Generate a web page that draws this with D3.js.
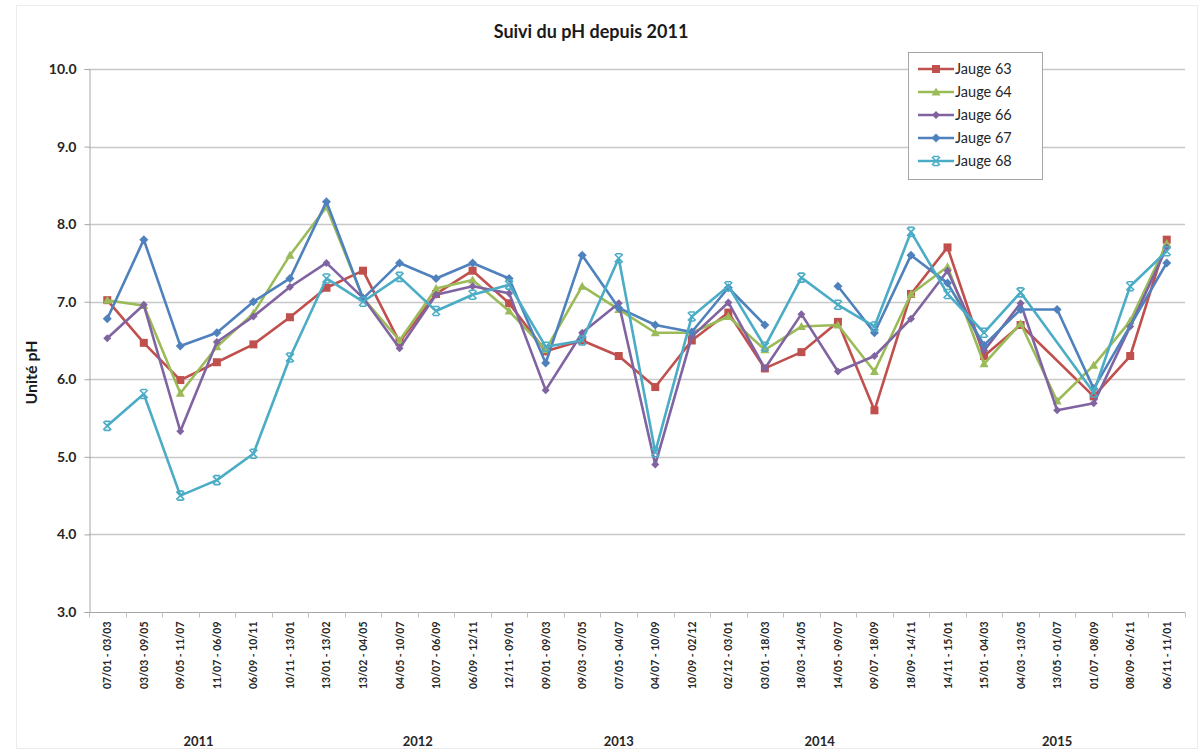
<!DOCTYPE html>
<html>
<head>
<meta charset="utf-8">
<script src="https://cdn.jsdelivr.net/npm/d3@7"></script>
<style>
  html, body { margin: 0; padding: 0; background: #fff; }
  svg { display: block; }
  text { font-family: Lato, "Open Sans", "DejaVu Sans", sans-serif; }
</style>
</head>
<body>
<svg id="chart" width="1203" height="749"></svg>
<script>
const categories = [
  "07/01 - 03/03","03/03 - 09/05","09/05 - 11/07","11/07 - 06/09","06/09 - 10/11","10/11 - 13/01",
  "13/01 - 13/02","13/02 - 04/05","04/05 - 10/07","10/07 - 06/09","06/09 - 12/11","12/11 - 09/01",
  "09/01 - 09/03","09/03 - 07/05","07/05 - 04/07","04/07 - 10/09","10/09 - 02/12","02/12 - 03/01",
  "03/01 - 18/03","18/03 - 14/05","14/05 - 09/07","09/07 - 18/09","18/09 - 14/11","14/11 - 15/01",
  "15/01 - 04/03","04/03 - 13/05","13/05 - 01/07","01/07 - 08/09","08/09 - 06/11","06/11 - 11/01"
];
const years = ["2011","2012","2013","2014","2015"];
const yearFirst = [0, 6, 12, 17, 23];
const yearLast  = [5, 11, 16, 22, 29];

// null = empty cell (gap in line), NaN = #N/A (line connected across)
const seriesNames = ["Jauge 63","Jauge 64","Jauge 66","Jauge 67","Jauge 68"];
const jauge63 = [7.02,6.47,5.99,6.22,6.45,6.80,7.18,7.40,6.48,7.10,7.40,6.98,6.36,6.50,6.30,5.90,6.50,6.86,6.14,6.35,6.74,5.60,7.10,7.70,6.30,6.70,NaN,5.78,6.30,7.80];
const jauge64 = [7.02,6.95,5.82,6.42,6.85,7.60,8.22,7.05,6.50,7.17,7.28,6.88,6.38,7.20,6.90,6.60,6.60,6.81,6.38,6.68,6.70,6.10,7.10,7.45,6.20,6.72,5.72,6.18,6.75,7.75];
const jauge66 = [6.53,6.96,5.33,6.48,6.81,7.19,7.50,7.05,6.40,7.09,7.20,7.11,5.86,6.60,6.98,4.90,6.55,6.99,6.14,6.84,6.10,6.30,6.78,7.40,6.37,6.98,5.60,5.69,6.68,7.70];
const jauge67 = [6.78,7.80,6.43,6.60,7.00,7.30,8.29,7.04,7.50,7.30,7.50,7.30,6.21,7.60,6.92,6.70,6.61,7.18,6.70,null,7.20,6.60,7.60,7.24,6.44,6.90,6.90,5.88,NaN,7.50];
const jauge68 = [5.40,5.81,4.50,4.70,5.04,6.28,7.30,7.00,7.32,6.88,7.09,7.22,6.42,6.50,7.56,5.06,6.81,7.20,6.42,7.31,6.96,6.68,7.90,7.10,6.60,7.12,NaN,5.83,7.20,7.65];
const yTicks = [3,4,5,6,7,8,9,10];

const seriesValues = [jauge63, jauge64, jauge66, jauge67, jauge68];
const colors = ["#C0504D","#9BBB59","#8064A2","#4F81BD","#4BACC6"];
const markers = ["square","triangle","smalldiamond","diamond","x"];

const svg = d3.select("#chart");
const W = 1203, H = 749;
const plot = {left: 89, right: 1185, top: 69, bottom: 612};

// faint outer border
svg.append("rect").attr("x", 16.5).attr("y", 5.5).attr("width", W - 22).attr("height", H - 6)
  .attr("fill", "none").attr("stroke", "#ECECEC");

const x = d3.scaleBand().domain(d3.range(categories.length)).range([plot.left, plot.right]).padding(0);
const xc = i => x(i) + x.bandwidth() / 2;
const y = d3.scaleLinear().domain([3, 10]).range([plot.bottom, plot.top]);

// gridlines
svg.append("g").selectAll("line").data(yTicks.filter(t => t > 3)).join("line")
  .attr("x1", plot.left).attr("x2", plot.right)
  .attr("y1", d => Math.round(y(d)) + 0.5).attr("y2", d => Math.round(y(d)) + 0.5)
  .attr("stroke", "#C8C8C8").attr("stroke-width", 1.3);

// y axis
const yAxis = d3.axisLeft(y).tickValues(yTicks).tickFormat(d3.format(".1f")).tickSize(5).tickPadding(8);
const gy = svg.append("g").attr("transform", `translate(${plot.left + 0.5},0)`).call(yAxis);
gy.select(".domain").attr("stroke", "#A6A6A6");
gy.selectAll(".tick line").attr("stroke", "#A6A6A6");
gy.selectAll("text").attr("font-size", 14).attr("font-weight", "bold").attr("fill", "#262626");

// x axis
const gx = svg.append("g").attr("transform", `translate(0,${plot.bottom + 0.5})`);
gx.append("line").attr("x1", plot.left).attr("x2", plot.right).attr("stroke", "#A6A6A6");
gx.selectAll("line.tk").data(d3.range(categories.length + 1)).join("line").attr("class", "tk")
  .attr("x1", i => Math.round(plot.left + i * x.bandwidth()) + 0.5)
  .attr("x2", i => Math.round(plot.left + i * x.bandwidth()) + 0.5)
  .attr("y1", 0).attr("y2", 5).attr("stroke", "#BFBFBF");
gx.selectAll("text.cat").data(categories).join("text").attr("class", "cat")
  .attr("transform", (d, i) => `translate(${xc(i) + 4},9) rotate(-90)`)
  .attr("text-anchor", "end")
  .attr("font-size", 10.5).attr("font-weight", "bold").attr("fill", "#262626")
  .text(d => d);
// year labels
svg.append("g").selectAll("text").data(years).join("text")
  .attr("x", (d, i) => (xc(yearFirst[i]) + xc(yearLast[i])) / 2)
  .attr("y", 746)
  .attr("text-anchor", "middle")
  .attr("font-size", 13).attr("font-weight", "bold").attr("fill", "#262626")
  .text(d => d);

// y-axis title
svg.append("text").attr("transform", `translate(37,${(plot.top + plot.bottom) / 2 + 32}) rotate(-90)`)
  .attr("text-anchor", "middle").attr("font-size", 16).attr("font-weight", "bold").attr("fill", "#1a1a1a")
  .text("Unité pH");

// title
svg.append("text").attr("x", 591).attr("y", 38).attr("text-anchor", "middle")
  .attr("font-size", 18).attr("font-weight", "bold").attr("fill", "#1a1a1a")
  .text("Suivi du pH depuis 2011");

function drawMarker(g, type, cx, cy, color) {
  if (type === "square") {
    g.append("rect").attr("x", cx - 4).attr("y", cy - 4).attr("width", 8).attr("height", 8).attr("fill", color);
  } else if (type === "triangle") {
    g.append("path").attr("d", `M${cx},${cy - 4.5}L${cx + 4.5},${cy + 3.5}L${cx - 4.5},${cy + 3.5}Z`).attr("fill", color);
  } else if (type === "diamond") {
    g.append("path").attr("d", `M${cx},${cy - 4.5}L${cx + 4.5},${cy}L${cx},${cy + 4.5}L${cx - 4.5},${cy}Z`).attr("fill", color);
  } else if (type === "smalldiamond") {
    g.append("path").attr("d", `M${cx},${cy - 4}L${cx + 4},${cy}L${cx},${cy + 4}L${cx - 4},${cy}Z`).attr("fill", color);
  } else if (type === "x") {
    g.append("path").attr("d", `M${cx - 4},${cy - 4}L${cx + 4},${cy + 4}M${cx + 4},${cy - 4}L${cx - 4},${cy + 4}M${cx - 3},${cy - 4.5}L${cx + 3},${cy - 4.5}M${cx - 3},${cy + 4.5}L${cx + 3},${cy + 4.5}`)
      .attr("stroke", color).attr("stroke-width", 1.6).attr("fill", "none");
  }
}

const line = d3.line().defined(d => d.v !== null).x(d => xc(d.i)).y(d => y(d.v));
seriesValues.forEach((vals, s) => {
  // #N/A points are skipped (line connects over them); empty cells break the line
  const pts = vals.map((v, i) => ({i, v})).filter(p => !Number.isNaN(p.v));
  const g = svg.append("g");
  g.append("path").datum(pts).attr("d", line).attr("fill", "none")
    .attr("stroke", colors[s]).attr("stroke-width", 2.6).attr("stroke-linejoin", "round");
  pts.filter(p => p.v !== null).forEach(p => drawMarker(g, markers[s], xc(p.i), y(p.v), colors[s]));
});

// legend
const lg = svg.append("g");
lg.append("rect").attr("x", 908.5).attr("y", 52.5).attr("width", 134).attr("height", 127)
  .attr("fill", "#fff").attr("stroke", "#A6A6A6");
seriesNames.forEach((name, s) => {
  const ly = 69 + s * 23;
  lg.append("line").attr("x1", 918).attr("x2", 954).attr("y1", ly).attr("y2", ly)
    .attr("stroke", colors[s]).attr("stroke-width", 2.6);
  drawMarker(lg, markers[s], 936, ly, colors[s]);
  lg.append("text").attr("x", 955).attr("y", ly + 5).attr("font-size", 14.5).attr("fill", "#262626").text(name);
});
</script>
</body>
</html>
